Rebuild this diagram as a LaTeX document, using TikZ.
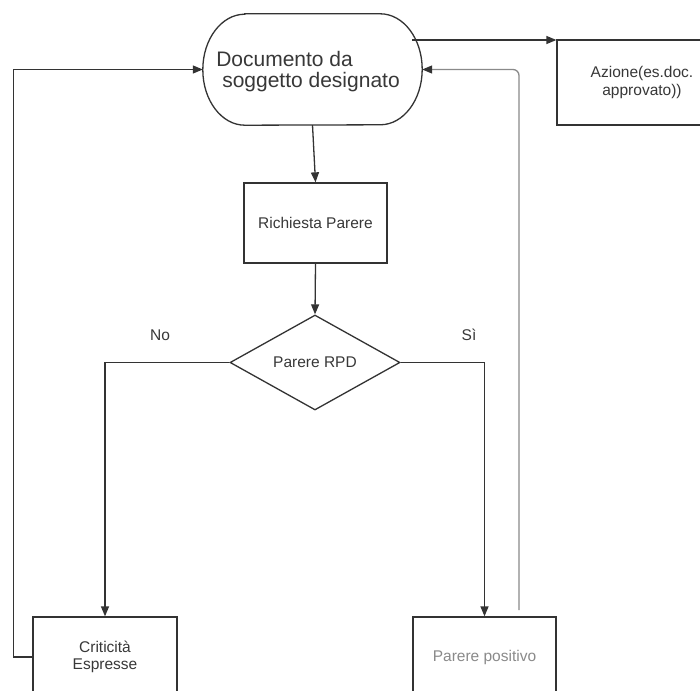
\documentclass[tikz,border=0pt]{standalone}
\usepackage{fontspec}
\setmainfont{Liberation Sans}
\usetikzlibrary{arrows.meta,shapes.geometric}
\definecolor{ln}{HTML}{333333}
\definecolor{tx}{HTML}{383838}
\definecolor{lg}{HTML}{8A8A8A}
\begin{document}
\begin{tikzpicture}[x=1pt,y=-1pt,
  line/.style={draw=ln,line width=1.3pt},
  arr/.style={line,-{Triangle[length=10pt,width=8pt]}},
  box/.style={line,rectangle,inner sep=0pt,align=center,text=tx,font=\fontsize{15.5}{17.5}\selectfont},
  lbl/.style={inner sep=0pt,text=tx,font=\fontsize{15.5}{18}\selectfont}]
\clip (0,0) rectangle (700,690);
\fill[white] (0,0) rectangle (700,690);
% terminal
\node[minimum width=219pt,minimum height=111pt,inner sep=0pt] (doc) at (312.5,69.5) {};
\draw[line] ([xshift=42pt]doc.north west) -- ([xshift=-42pt]doc.north east)
  arc[start angle=90,end angle=-90,x radius=42pt,y radius=55.5pt]
  -- ([xshift=42pt]doc.south west)
  arc[start angle=270,end angle=90,x radius=42pt,y radius=55.5pt] -- cycle;
\node[inner sep=0pt,align=left,text=tx,font=\fontsize{21}{21}\selectfont] (doctext) at (308,72)
  {Documento da\\\hspace*{6pt}soggetto designato};
% boxes
\node[box,minimum width=143pt,minimum height=80pt] (rich) at (315.5,223) {Richiesta Parere};
\node[line,diamond,minimum width=170pt,minimum height=95pt,inner sep=0pt,text=tx,font=\fontsize{15.5}{17.5}\selectfont] (dec) at (315,362.5) {Parere RPD};
\node[box,minimum width=144pt,minimum height=80pt] (crit) at (105,657) {Criticità\\Espresse};
\node[box,minimum width=143pt,minimum height=80pt,text=lg] (pos) at (484.5,657) {Parere positivo};
\node[box,minimum width=170pt,minimum height=85pt] (az) at (642,82.5) {Azione(es.doc.\\approvato))};
% labels
\node[lbl] (no) at (160,335) {No};
\node[lbl] (si) at (469,335) {Sì};
% connectors
\draw[arr] (doc.south) -- (rich.north);
\draw[arr] (rich.south) -- (dec.north);
\draw[arr] (dec.west) -| (crit.north);
\draw[arr] (dec.east) -| (pos.north);
\coordinate (dstart) at ([xshift=-10pt,yshift=29.5pt]doc.east);
\draw[arr] (dstart) -- (az.west |- dstart);
\draw[arr] (crit.west) -- ++(-19,0) |- (doc.west);
\coordinate (ploop) at (519,610);
\draw[line,draw=lg,rounded corners=6pt,-{Triangle[length=10pt,width=8pt,color=ln]}] (ploop) |- (doc.east);
\end{tikzpicture}
\end{document}
